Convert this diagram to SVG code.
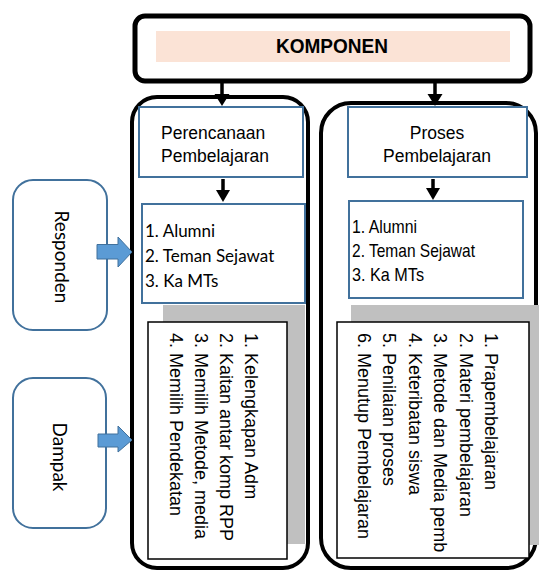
<svg xmlns="http://www.w3.org/2000/svg" width="539" height="570" viewBox="0 0 539 570">
<style>
.col{fill:#fff;stroke:#000;stroke-width:4}
.bbox{fill:#fff;stroke:#41719c;stroke-width:2}
.side{fill:#fff;stroke:#41719c;stroke-width:2}
.wbox{fill:#fff;stroke:#000;stroke-width:1.5}
.shadow{fill:#c0c0c0}
.ar{font-family:"Liberation Sans",Arial,sans-serif;fill:#000}
.cal{font-family:Lato,"Noto Sans",sans-serif;fill:#000}
.barrow{fill:#5b9bd5;stroke:#41719c;stroke-width:1}
</style>
<rect width="539" height="570" fill="#fff"/>

<g id="komponen">
<rect x="135" y="16" width="395" height="65" rx="10" fill="#fff" stroke="#000" stroke-width="5"/>
<rect x="156" y="31" width="354" height="31" fill="#fbe3d6"/>
<text class="ar" x="332" y="53" font-size="20" font-weight="bold" text-anchor="middle" textLength="112" lengthAdjust="spacingAndGlyphs">KOMPONEN</text>
</g>

<g id="col-perencanaan">
<rect class="col" x="132" y="97" width="176" height="471" rx="25"/>
</g>
<g id="col-proses">
<rect class="col" x="321" y="103" width="215" height="465" rx="30"/>
</g>

<g id="perencanaan">
<rect class="bbox" x="139" y="107" width="164" height="70"/>
<text class="ar" x="161" y="139" font-size="17.5">Perencanaan</text>
<text class="ar" x="161" y="162" font-size="17.5">Pembelajaran</text>
</g>

<g id="proses">
<rect class="bbox" x="348" y="107" width="179" height="70"/>
<text class="ar" x="437" y="139" font-size="17.5" text-anchor="middle">Proses</text>
<text class="ar" x="437" y="162" font-size="17.5" text-anchor="middle">Pembelajaran</text>
</g>

<g id="responden-list-1">
<rect class="bbox" x="142" y="204" width="163" height="99"/>
<text class="cal" x="145" y="237" font-size="17">1. Alumni</text>
<text class="cal" x="145" y="262" font-size="17">2. Teman Sejawat</text>
<text class="cal" x="145" y="287" font-size="17">3. Ka MTs</text>
</g>

<g id="responden-list-2">
<rect class="bbox" x="349" y="201" width="174" height="97"/>
<text class="ar" x="352" y="233" font-size="19" textLength="65" lengthAdjust="spacingAndGlyphs">1. Alumni</text>
<text class="ar" x="352" y="257" font-size="19" textLength="123" lengthAdjust="spacingAndGlyphs">2. Teman Sejawat</text>
<text class="ar" x="352" y="281" font-size="19" textLength="72" lengthAdjust="spacingAndGlyphs">3. Ka MTs</text>
</g>

<g id="dampak-list-1">
<rect class="shadow" x="163" y="305" width="142" height="239"/>
<rect class="wbox" x="148" y="322" width="139" height="237"/>
<g transform="translate(245,333) rotate(90)">
<text class="ar" x="0" y="0" font-size="18">1. Kelengkapan Adm</text>
<text class="ar" x="0" y="25" font-size="18">2. Kaitan antar komp RPP</text>
<text class="ar" x="0" y="50" font-size="18">3. Memilih Metode, media</text>
<text class="ar" x="0" y="75" font-size="18">4. Memilih Pendekatan</text>
</g>
</g>

<g id="dampak-list-2">
<rect class="shadow" x="351" y="305" width="188" height="240"/>
<rect class="wbox" x="337" y="322" width="192" height="236"/>
<g transform="translate(485,333) rotate(90)">
<text class="ar" x="0" y="0" font-size="18">1. Prapembelajaran</text>
<text class="ar" x="0" y="25.4" font-size="18">2. Materi pembelajaran</text>
<text class="ar" x="0" y="50.8" font-size="18">3. Metode dan Media pemb</text>
<text class="ar" x="0" y="76.2" font-size="18">4. Keteribatan siswa</text>
<text class="ar" x="0" y="101.6" font-size="18">5. Penilaian proses</text>
<text class="ar" x="0" y="127" font-size="18">6. Menutup Pembelajaran</text>
</g>
</g>

<g id="responden">
<rect class="side" x="13" y="180" width="94" height="150" rx="20"/>
<text class="cal" transform="translate(62,257) rotate(90)" font-size="19" text-anchor="middle" dominant-baseline="central">Responden</text>
</g>

<g id="dampak">
<rect class="side" x="13" y="378" width="93" height="150" rx="20"/>
<text class="cal" transform="translate(60,457) rotate(90)" font-size="19" text-anchor="middle" dominant-baseline="central">Dampak</text>
</g>

<g id="connectors">
<path d="M222,82 V94" stroke="#000" stroke-width="3.5"/>
<path d="M214.5,94 H229.5 L222,106 z" fill="#000"/>
<path d="M435,82 V94" stroke="#000" stroke-width="3.5"/>
<path d="M427.5,94 H442.5 L435,106 z" fill="#000"/>
<path d="M223,179 V191" stroke="#000" stroke-width="3.5"/>
<path d="M216,190 H230 L223,202 z" fill="#000"/>
<path d="M433,179 V189" stroke="#000" stroke-width="3.5"/>
<path d="M426,188 H440 L433,200 z" fill="#000"/>
<path class="barrow" d="M97,244.5 H118 V237 L132,252 L118,267 V259 H97 z"/>
<path class="barrow" d="M98,434 H118 V426 L132,440 L118,452 V447 H98 z"/>
</g>
</svg>
